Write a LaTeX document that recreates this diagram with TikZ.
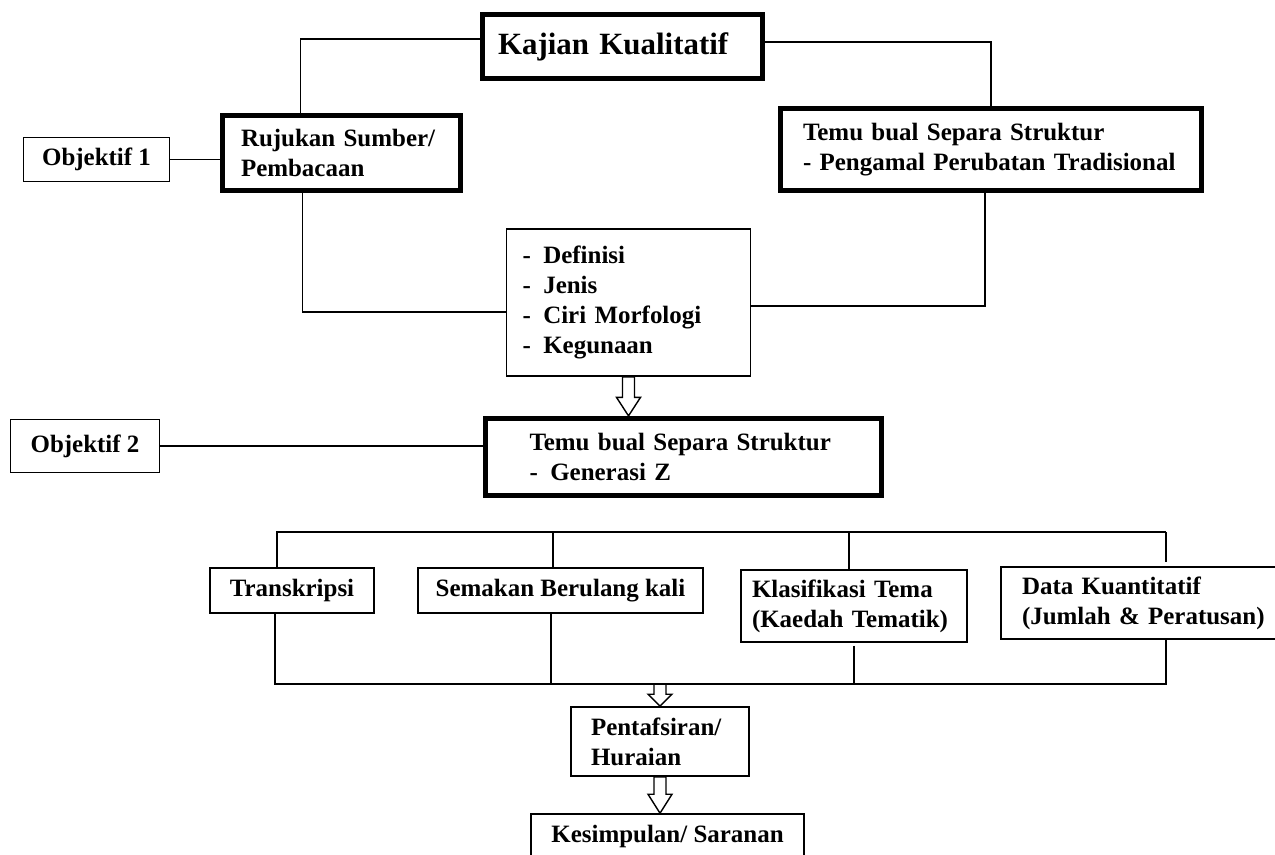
\documentclass[tikz,border=0pt]{standalone}
\usepackage{fontspec}
\setmainfont{Liberation Serif}
\usepackage{tikz}
\newcommand{\boxfont}{\bfseries\fontsize{14.2}{17.1}\selectfont}
\newcommand{\dashgap}{-\hspace{0.25cm}}
\tikzset{thickbox/.style={draw=black,line width=3pt,rectangle,align=left,inner ysep=0pt,font=\boxfont},
	thinbox/.style={draw=black,line width=0.9pt,rectangle,align=center,inner sep=0pt,font=\boxfont},
	link/.style={draw=black,line width=0.9pt},
	hollow/.style={draw=black,line width=0.8pt}}
\newcommand{\hollowarrow}[3]{%
	\coordinate (from) at (#1);
	\coordinate (to) at (#2);
	\draw[hollow] ([xshift=-0.12cm]from) -- ([xshift=-0.12cm,yshift=#3cm]to) -- ([xshift=-0.24cm,yshift=#3cm]to) -- (to)
		-- ([xshift=0.24cm,yshift=#3cm]to) -- ([xshift=0.12cm,yshift=#3cm]to) -- ([xshift=0.12cm]from) -- cycle;}

\begin{document}
\begin{tikzpicture}
				      \useasboundingbox (0,0) rectangle (25.5,-17.08);

				      \node[thickbox,font=\bfseries\fontsize{17.6}{21}\selectfont,inner xsep=0.31cm,text width=4.98cm,minimum height=1.28cm] (K) at (12.45,-0.93) {Kajian Kualitatif};
				      \node[thickbox,inner xsep=0.37cm,text width=4.02cm,minimum height=1.50cm] (R) at (6.83,-3.06) {Rujukan Sumber/\\Pembacaan};
				      \node[thinbox,minimum width=2.92cm,minimum height=0.88cm] (O1) at (1.93,-3.19) {Objektif 1};
				      \node[thickbox,inner xsep=0.45cm,text width=7.52cm,minimum height=1.64cm] (T1) at (19.82,-2.99) {Temu bual Separa Struktur\\- Pengamal Perubatan Tradisional};
				      \node[thinbox,align=left,inner xsep=0.32cm,text width=4.24cm,minimum height=2.94cm] (D) at (12.57,-6.05) {\dashgap Definisi\\\dashgap Jenis\\\dashgap Ciri Morfologi\\\dashgap Kegunaan};
				      \node[thinbox,minimum width=2.98cm,minimum height=1.06cm] (O2) at (1.70,-8.92) {Objektif 2};
				      \node[thickbox,inner xsep=0.88cm,text width=6.16cm,minimum height=1.54cm] (T2) at (13.67,-9.14) {Temu bual Separa Struktur\\\dashgap Generasi Z};
				      \node[thinbox,minimum width=3.28cm,minimum height=0.90cm] (Tr) at (5.84,-11.81) {Transkripsi};
				      \node[thinbox,minimum width=5.70cm,minimum height=0.90cm] (S) at (11.21,-11.81) {Semakan Berulang kali};
				      \node[thinbox,align=left,inner xsep=0.22cm,text width=4.08cm,minimum height=1.44cm] (Kl) at (17.08,-12.12) {Klasifikasi Tema\\(Kaedah Tematik)};
				      \node[thinbox,align=left,inner xsep=0.42cm,text width=4.94cm,minimum height=1.44cm] (DK) at (22.91,-12.06) {Data Kuantitatif\\(Jumlah \& Peratusan)};
				      \node[thinbox,align=left,inner xsep=0.40cm,text width=2.76cm,minimum height=1.38cm] (P) at (13.20,-14.83) {Pentafsiran/\\Huraian};
				      \node[thinbox,minimum width=5.46cm,minimum height=0.88cm] (KS) at (13.35,-16.72) {Kesimpulan/ Saranan};

				      % upper part
				      \draw[link] ([yshift=0.15cm]K.west) -| ([xshift=1.61cm]R.north west);
				      \draw[link] ([yshift=0.09cm]K.east) -| (T1.north);
				      \draw[link] (O1.east) -- (O1.east -| R.west);
				      \draw[link] ([xshift=1.65cm]R.south west) |- ([yshift=-0.19cm]D.west);
				      \draw[link] ([xshift=-0.12cm]T1.south) |- ([yshift=-0.07cm]D.east);
				      \draw[link] (O2.east) -- (O2.east -| T2.west);
				      \hollowarrow{D.south}{D.south |- T2.north}{0.37}

				      % analysis steps
				      \coordinate (top) at (5.54,-10.64);
				      \coordinate (topend) at (23.32,-10.64);
				      \coordinate (bot) at (5.50,-13.68);
				      \coordinate (botend) at (23.32,-13.68);
				      \coordinate (s1) at ([xshift=-0.15cm]S.north);
				      \coordinate (s2) at ([xshift=-0.19cm]S.south);
				      \coordinate (k1) at ([xshift=-0.10cm]Kl.north);
				      \draw[link] (top |- Tr.north) -- (top) -- (topend);
				      \draw[link,shorten >=0.08cm] (topend) -- (topend |- DK.north);
				      \draw[link] (s1 |- top) -- (s1);
				      \draw[link] (k1 |- top) -- (k1);
				      \draw[link] (Tr.south -| bot) -- (bot) -- (botend) -- (botend |- DK.south);
				      \draw[link] (s2) -- (s2 |- bot);
				      \draw[link,shorten <=0.06cm] (Kl.south) -- (Kl.south |- bot);
				      \hollowarrow{P.north |- bot}{P.north}{0.24}
				      \hollowarrow{P.south}{P.south |- KS.north}{0.38}
			      \end{tikzpicture}
\end{document}
